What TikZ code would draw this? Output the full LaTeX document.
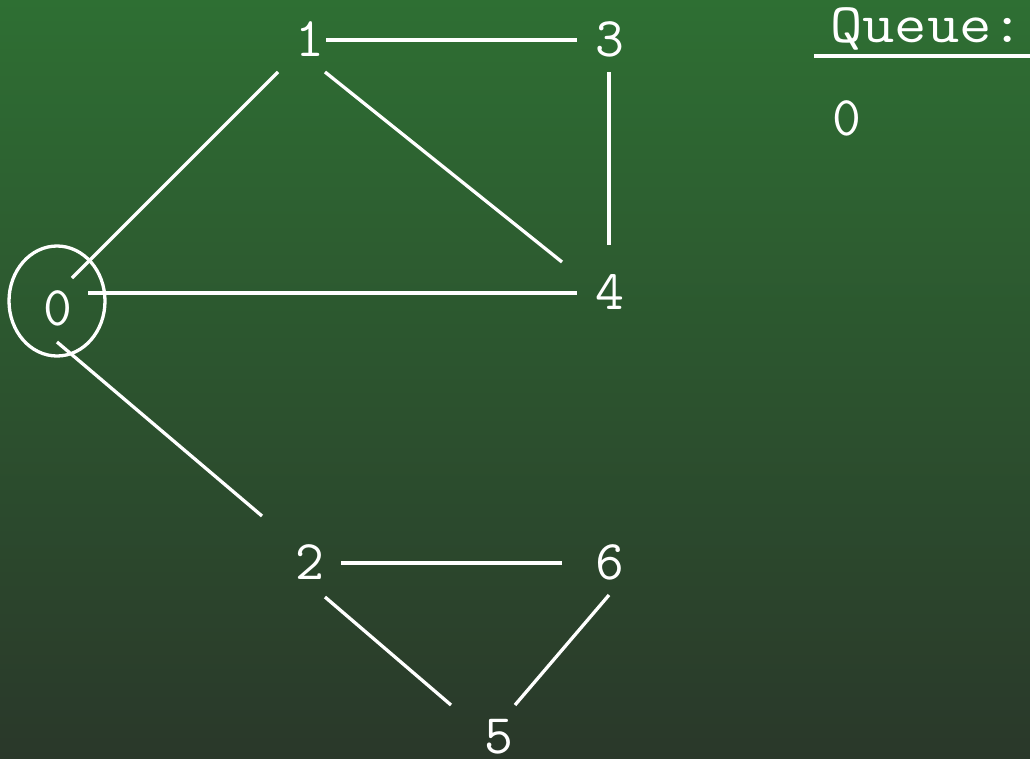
\documentclass[tikz,border=0pt]{standalone}
\usetikzlibrary{calc,shapes.geometric}
\definecolor{bgtop}{RGB}{46,111,51}
\definecolor{bgbot}{RGB}{42,56,42}
\begin{document}
\begin{tikzpicture}[x=1pt,y=-1pt,
  lbl/.style={text=white,font=\fontsize{56}{60}\selectfont\ttfamily,inner sep=0pt},
  edge/.style={draw=white,line width=3.3pt},
  mark0/.style={draw=white,line width=3.3pt,ellipse,minimum width=96pt,minimum height=110pt,inner sep=0pt}]
\shade[top color=bgtop,bottom color=bgbot] (0,0) rectangle (1030,758);
\useasboundingbox (0,0) rectangle (1030,758);
% vertices
\node[lbl] (n0) at (58,308) {0};
\node[mark0] (r0) at (57,301) {};
\node[lbl] (n1) at (310,39) {1};
\node[lbl] (n3) at (610,39) {3};
\node[lbl] (n4) at (610,292) {4};
\node[lbl] (n2) at (310,562) {2};
\node[lbl] (n6) at (610,562) {6};
\node[lbl] (n5) at (499,737) {5};
% edges
\draw[edge] ($(n1)+(16,1)$) -- ($(n3)+(-33,1)$);
\draw[edge] ($(n3)+(-1,33)$) -- ($(n4)+(-1,-47)$);
\draw[edge] ($(n1)+(15,33)$) -- ($(n4)+(-48,-30)$);
\draw[edge] ($(n0)+(14,-30)$) -- ($(n1)+(-32,33)$);
\draw[edge] ($(n0)+(30,-15)$) -- ($(n4)+(-33,1)$);
\draw[edge] ($(n0)+(-1,34)$) -- ($(n2)+(-48,-46)$);
\draw[edge] ($(n2)+(31,1)$) -- ($(n6)+(-48,1)$);
\draw[edge] ($(n2)+(15,35)$) -- ($(n5)+(-48,-32)$);
\draw[edge] ($(n6)+(-1,33)$) -- ($(n5)+(16,-32)$);
% queue
\node[lbl,anchor=base west,xscale=1.12] (q) at (830,42) {Queue:};
\draw[edge] (814,56) -- (1030,56);
\node[lbl] (q0) at (847,118) {0};
\end{tikzpicture}
\end{document}
